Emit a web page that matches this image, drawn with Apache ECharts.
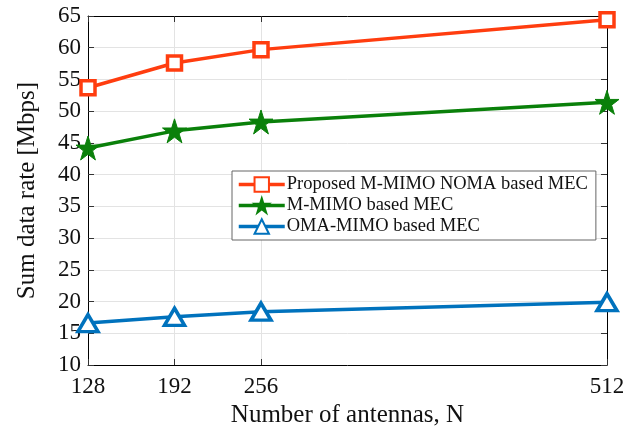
<!DOCTYPE html>
<html>
<head>
<meta charset="utf-8">
<script src="https://cdn.jsdelivr.net/npm/echarts@6/dist/echarts.min.js"></script>
<style>
  html, body { margin: 0; padding: 0; background: #fff; }
  #chart { width: 638px; height: 430px; }
</style>
</head>
<body>
<div id="chart"></div>
<script>
const antennas = [128, 192, 256, 512];
const proposed = [53.7, 57.6, 59.7, 64.4];
const mmimo = [44.2, 46.9, 48.3, 51.4];
const omaMimo = [16.6, 17.6, 18.4, 19.9];

const font = 'Liberation Serif';
const chart = echarts.init(document.getElementById('chart'));

function pairs(vals) {
    return antennas.map((n, i) => [n, vals[i]]);
}

const xBase = {
    type: 'value',
    min: 128,
    max: 512,
    axisLine: { show: true, onZero: false, lineStyle: { color: '#000', width: 1 } },
    axisTick: { show: true, inside: true, length: 6, customValues: antennas, lineStyle: { color: '#333' } },
    splitLine: { show: false }
};
const yBase = {
    type: 'value',
    min: 10,
    max: 65,
    interval: 5,
    axisLine: { show: true, onZero: false, lineStyle: { color: '#000', width: 1 } },
    axisTick: { show: true, inside: true, length: 6, lineStyle: { color: '#333' } },
    splitLine: { show: false }
};

const options = {
    animation: false,
    grid: { left: 88, right: 31, top: 16, bottom: 65, outerBoundsMode: 'none', containLabel: false },
    legend: {
        orient: 'vertical',
        left: 232,
        top: 171,
        padding: [4, 8, 4, 5],
        itemGap: 2,
        itemWidth: 46,
        itemHeight: 18,
        backgroundColor: '#fff',
        borderColor: '#666',
        borderWidth: 1,
        borderRadius: 0,
        lineStyle: { width: 3.5 },
        textStyle: { fontFamily: font, fontSize: 18.5, color: '#111', padding: [0, 0, 0, -3] },
        data: ['Proposed M-MIMO NOMA based MEC', 'M-MIMO based MEC', 'OMA-MIMO based MEC']
    },
    xAxis: [
        Object.assign({}, xBase, {
            position: 'bottom',
            name: 'Number of antennas, N',
            nameLocation: 'middle',
            nameGap: 37,
            nameTextStyle: { fontFamily: font, fontSize: 25, color: '#111' },
            axisLabel: { customValues: antennas, margin: 10, fontFamily: font, fontSize: 23, color: '#111' },
            splitLine: { show: true, lineStyle: { color: '#e3e3e3', width: 1 } }
        }),
        Object.assign({}, xBase, { position: 'top', axisLabel: { show: false } })
    ],
    yAxis: [
        Object.assign({}, yBase, {
            position: 'left',
            name: 'Sum data rate [Mbps]',
            nameLocation: 'middle',
            nameGap: 48,
            nameTextStyle: { fontFamily: font, fontSize: 25, color: '#111' },
            axisLabel: { margin: 7, fontFamily: font, fontSize: 23, color: '#111' },
            splitLine: { show: true, lineStyle: { color: '#e3e3e3', width: 1 } }
        }),
        Object.assign({}, yBase, { position: 'right', axisLabel: { show: false } })
    ],
    series: [
        {
            name: 'Proposed M-MIMO NOMA based MEC',
            type: 'line',
            data: pairs(proposed),
            lineStyle: { width: 3.5, color: '#ff3d0f' },
            symbol: 'rect',
            symbolSize: 14,
            itemStyle: { color: '#fff', borderColor: '#ff3d0f', borderWidth: 3.5 },
            z: 5
        },
        {
            name: 'M-MIMO based MEC',
            type: 'line',
            data: pairs(mmimo),
            lineStyle: { width: 3.5, color: '#0a800a' },
            symbol: 'path://M50,0 L61.8,36.2 L100,36.2 L69.1,58.8 L80.9,95.1 L50,72.7 L19.1,95.1 L30.9,58.8 L0,36.2 L38.2,36.2 Z',
            symbolSize: 24,
            itemStyle: { color: '#0a800a', borderColor: '#0a800a', borderWidth: 1 },
            z: 4
        },
        {
            name: 'OMA-MIMO based MEC',
            type: 'line',
            data: pairs(omaMimo),
            lineStyle: { width: 3.5, color: '#0072bd' },
            symbol: 'triangle',
            symbolSize: [20, 17],
            itemStyle: { color: '#fff', borderColor: '#0072bd', borderWidth: 3.5 },
            z: 3
        }
    ]
};

chart.setOption(options);
new ResizeObserver(() => chart.resize()).observe(document.getElementById('chart'));
</script>
</body>
</html>
